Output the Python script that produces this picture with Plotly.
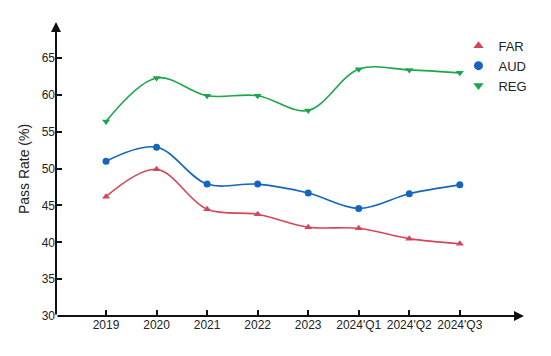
import plotly.graph_objects as go

categories = ["2019", "2020", "2021", "2022", "2023", "2024'Q1", "2024'Q2", "2024'Q3"]
far = [46.2, 49.9, 44.5, 43.8, 42.05, 41.9, 40.5, 39.8]
aud = [51.0, 52.9, 47.9, 47.9, 46.7, 44.6, 46.6, 47.8]
reg = [56.4, 62.3, 59.9, 59.9, 57.9, 63.5, 63.4, 63.0]
y_ticks = [30, 35, 40, 45, 50, 55, 60, 65]

x_idx = list(range(len(categories)))

fig = go.Figure()
series = [
    ("FAR", far, "#d4475a", "triangle-up"),
    ("AUD", aud, "#1565c0", "circle"),
    ("REG", reg, "#1aa64a", "triangle-down"),
]
for name, vals, color, sym in series:
    fig.add_trace(go.Scatter(
        x=x_idx, y=vals, name=name, mode="lines+markers", showlegend=False,
        line=dict(color=color, width=1.6, shape="spline", smoothing=1.0),
        marker=dict(symbol=sym, size=7, color=color),
    ))
for name, vals, color, sym in series:
    fig.add_trace(go.Scatter(
        x=[None], y=[None], name=name, mode="markers",
        marker=dict(symbol=sym, size=9, color=color),
    ))

# the page body has an 8px default margin, so the figure is sized to fit
fig.update_layout(
    width=543, height=348,
    margin=dict(l=48, r=27, t=14, b=40, autoexpand=False),
    paper_bgcolor="white", plot_bgcolor="white",
    font=dict(family="Liberation Sans, Arial, sans-serif", size=12, color="#222"),
    showlegend=True,
    legend=dict(x=0.86, y=0.97, xanchor="left", yanchor="top",
                font=dict(size=13), itemwidth=30, tracegroupgap=0,
                bgcolor="rgba(0,0,0,0)"),
    xaxis=dict(
        range=[-0.99, 8.27], tickmode="array", tickvals=x_idx, ticktext=categories,
        showgrid=False, zeroline=False, showline=False, automargin=False,
        ticks="inside", ticklen=6, tickwidth=1.5, tickcolor="#111",
    ),
    yaxis=dict(
        range=[30, 69.9], tickmode="array", tickvals=y_ticks,
        showgrid=False, zeroline=False, showline=False, automargin=False,
        ticks="inside", ticklen=6, tickwidth=1.5, tickcolor="#111",
        title=dict(text="Pass Rate (%)", font=dict(size=14), standoff=8),
    ),
)

# axis lines with arrowheads
fig.add_annotation(x=1, y=0, xref="x domain", yref="y domain",
                   ax=0, ay=0, axref="x domain", ayref="y domain",
                   showarrow=True, arrowhead=2, arrowsize=1, arrowwidth=2,
                   arrowcolor="#111", text="")
fig.add_annotation(x=0, y=1, xref="x domain", yref="y domain",
                   ax=0, ay=0, axref="x domain", ayref="y domain",
                   showarrow=True, arrowhead=2, arrowsize=1, arrowwidth=2,
                   arrowcolor="#111", text="")

fig.write_html("out.html")
